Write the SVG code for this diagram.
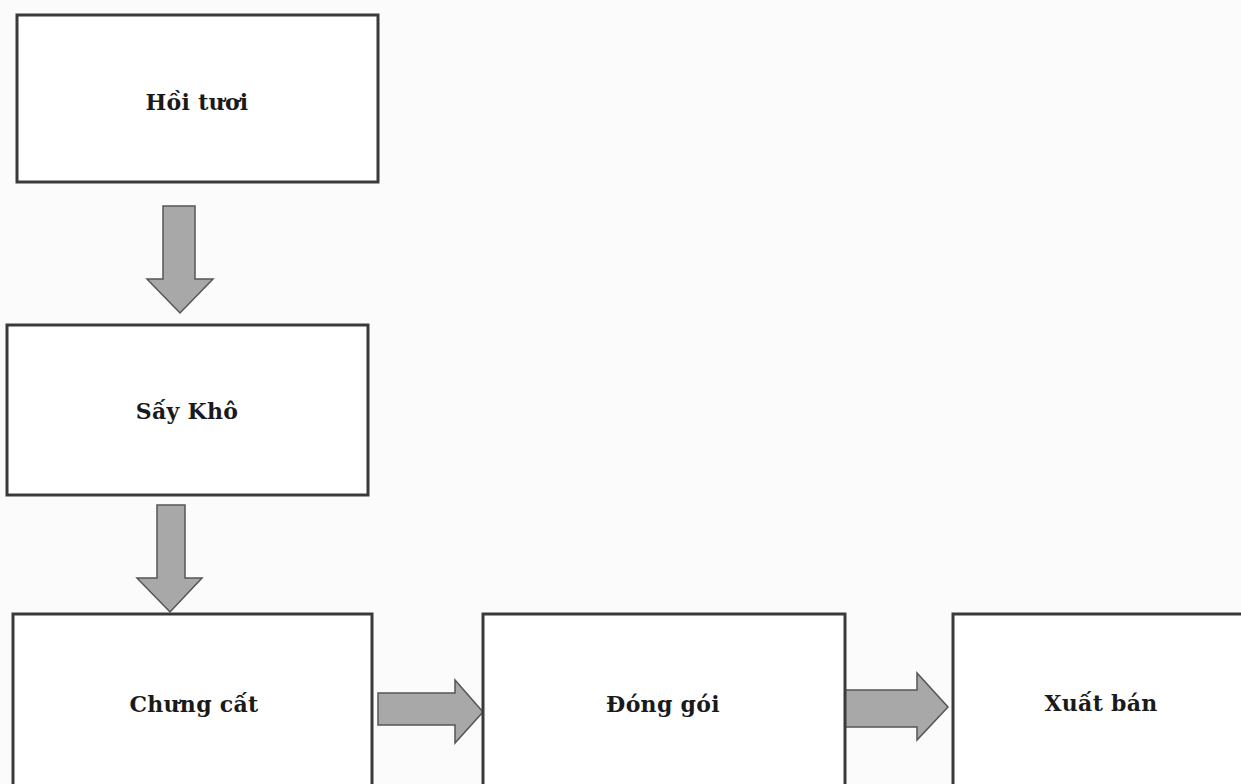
<svg xmlns="http://www.w3.org/2000/svg" width="1241" height="784" viewBox="0 0 1241 784">
<style>
.box{fill:#ffffff;stroke:#3a3a3a;stroke-width:3}
.lbl{font-family:"DejaVu Serif","Liberation Serif",serif;font-weight:bold;font-size:22px;letter-spacing:0.3px;fill:#1a1a1a;text-anchor:middle}
.arr{fill:#a8a8a8;stroke:#555;stroke-width:1.5}
</style>
<rect width="1241" height="784" fill="#fbfbfb"/>
<g id="connectors">
<path class="arr" d="M163,206 H195 V279 H213 L180,313 L147,279 H163 Z"/>
<path class="arr" d="M157,505 H185 V578 H202 L170,612 L137,578 H157 Z"/>
<path class="arr" d="M378,693 H455 V680 L483,712 L455,743 V725 H378 Z"/>
<path class="arr" d="M845,690 H917 V673 L948,707 L917,740 V727 H845 Z"/>
</g>
<g id="n1"><rect class="box" x="17" y="15" width="361" height="167"/><text class="lbl" x="197" y="110">Hồi tươi</text></g>
<g id="n2"><rect class="box" x="7" y="325" width="361" height="170"/><text class="lbl" x="187" y="419">Sấy Khô</text></g>
<g id="n3"><rect class="box" x="13" y="614" width="359" height="200"/><text class="lbl" x="194" y="712">Chưng cất</text></g>
<g id="n4"><rect class="box" x="483" y="614" width="362" height="200"/><text class="lbl" x="663" y="712">Đóng gói</text></g>
<g id="n5"><rect class="box" x="953" y="614" width="320" height="200"/><text class="lbl" x="1101" y="711">Xuất bán</text></g>
</svg>
